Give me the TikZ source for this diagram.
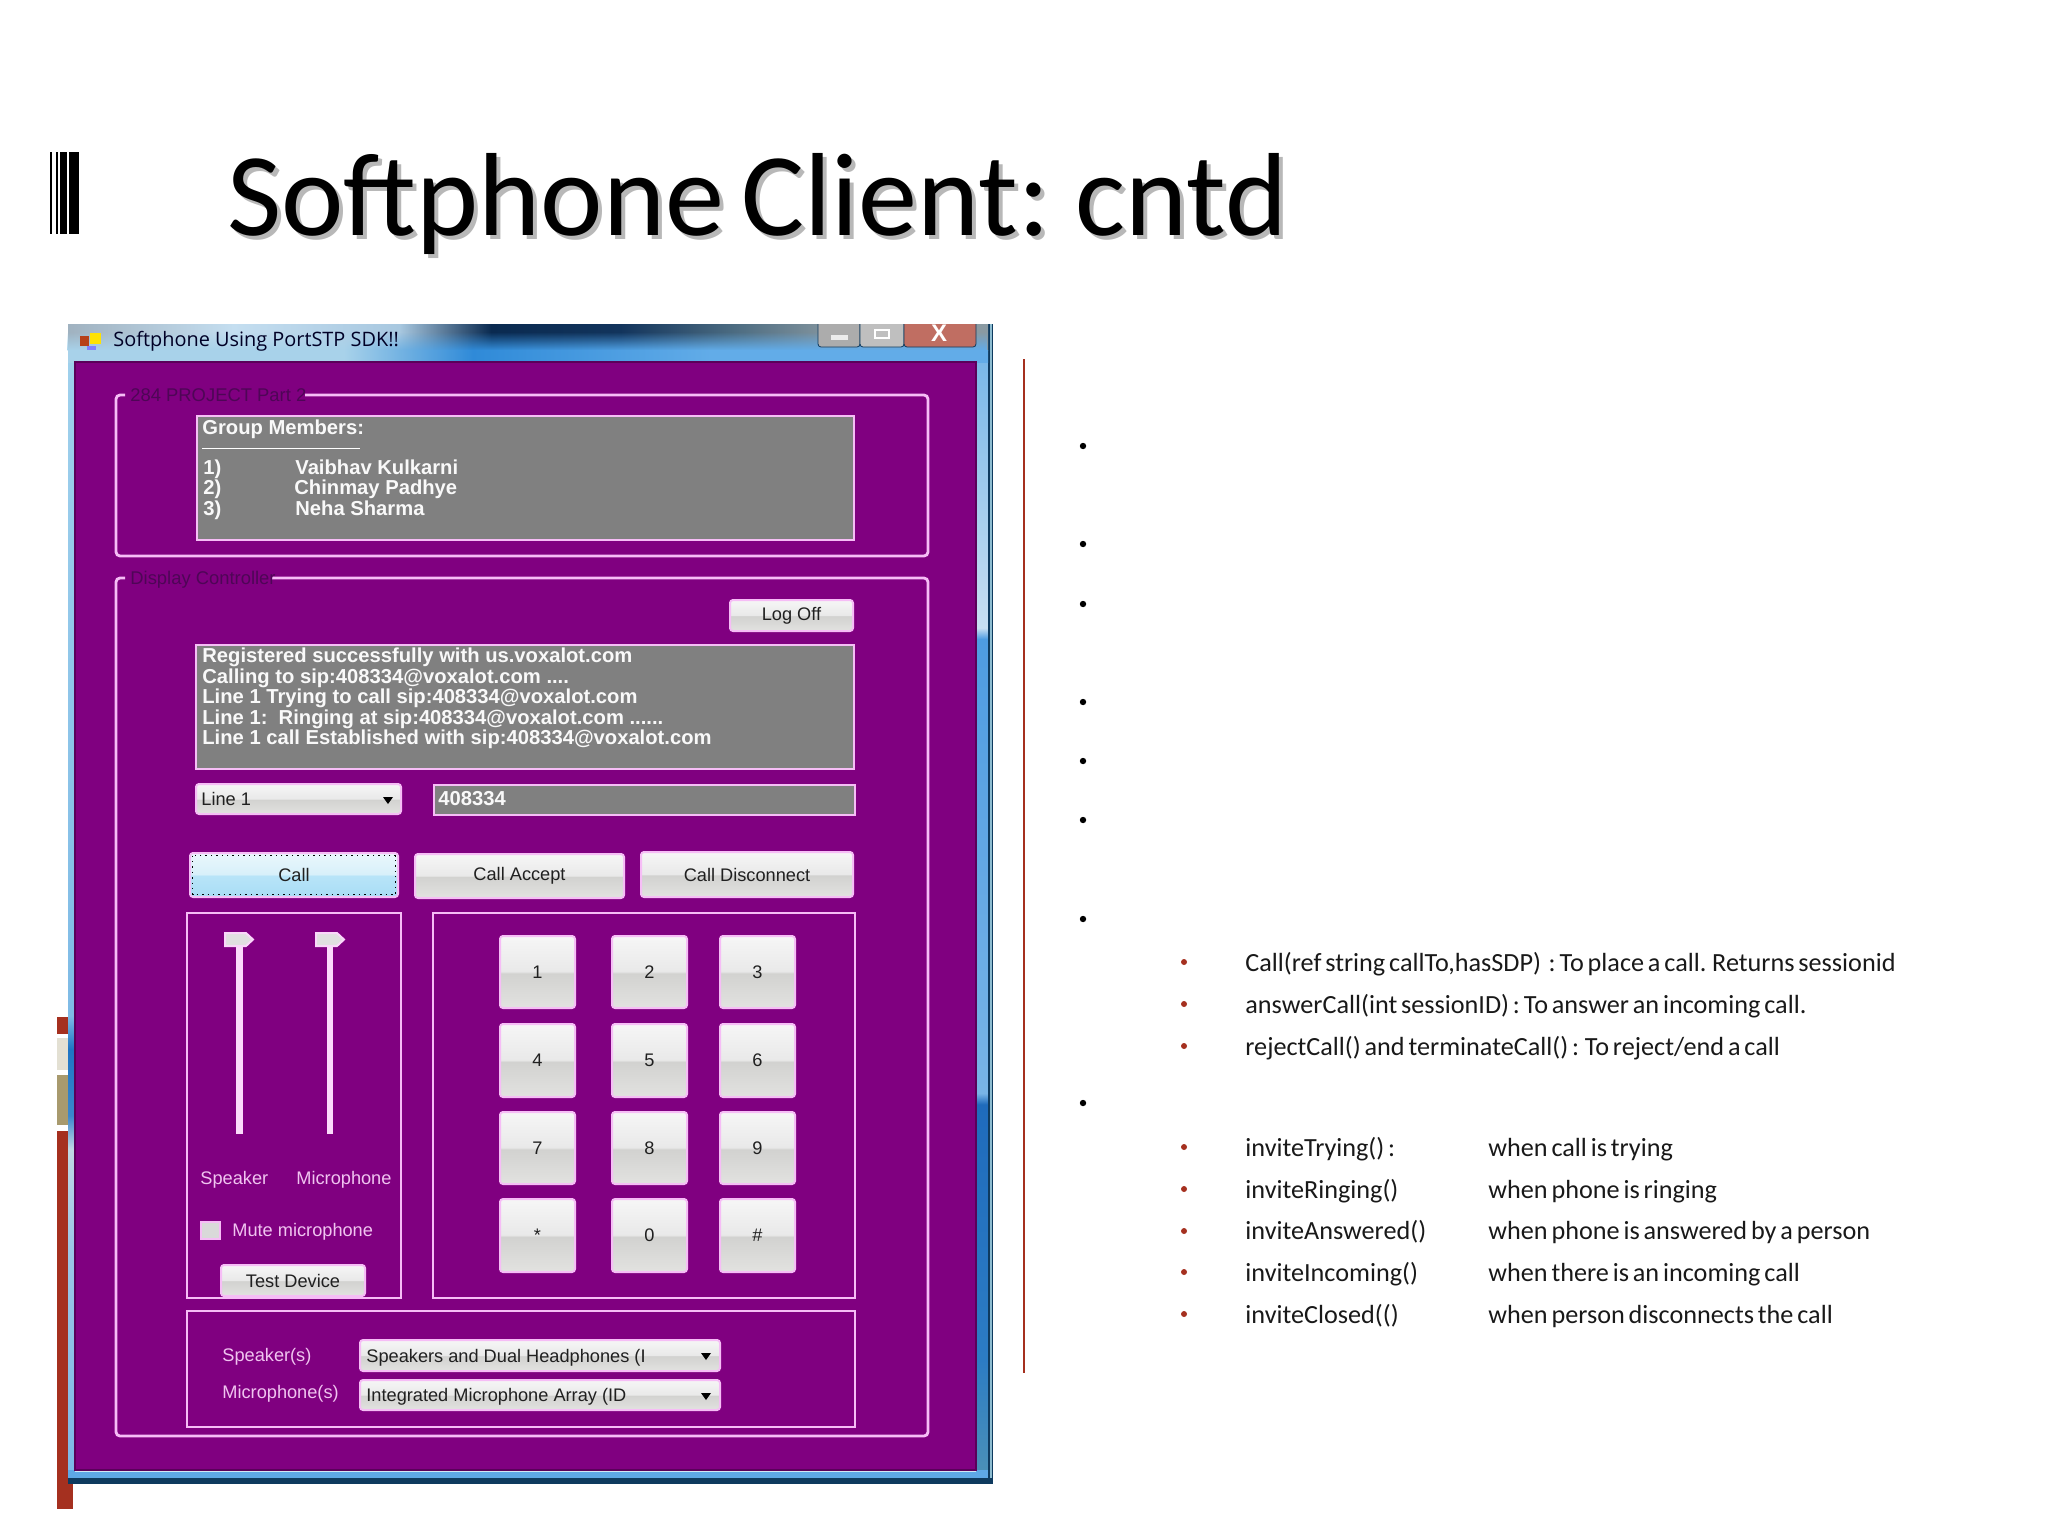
\documentclass[tikz,border=0pt]{standalone}
\usepackage{fontspec}
\setmainfont{Carlito}
\newfontfamily\bodyfont[WordSpace=1.0]{Carlito}
\newfontfamily\headfont[WordSpace=0.65]{Carlito}
\newfontfamily\uifont{Liberation Sans}
\newfontfamily\capfont{Open Sans}
\usetikzlibrary{fadings}
\definecolor{winpurple}{HTML}{800080}
\definecolor{pinkline}{HTML}{F6BDF6}
\definecolor{pinktext}{HTML}{F0C4F0}
\definecolor{boxgrey}{HTML}{808080}
\definecolor{deepred}{HTML}{A5301F}
\definecolor{legendink}{HTML}{4E0656}
\definecolor{btnink}{HTML}{202020}
\definecolor{beige}{HTML}{E3E0D3}
\definecolor{tanbar}{HTML}{A89A6E}
\definecolor{frameblue}{HTML}{8CC4E8}
\definecolor{framedark}{HTML}{0E3A5E}
\definecolor{lowblue}{HTML}{5EA8E6}
\definecolor{frameedge}{HTML}{8DBCD0}
\definecolor{b1}{HTML}{E2E2E0}\definecolor{b2}{HTML}{D2D2D0}\definecolor{b3}{HTML}{E9E9E9}\definecolor{b4}{HTML}{F6F6F6}
\pgfdeclareverticalshading{btnshade}{100bp}{color(0bp)=(b1);color(25bp)=(b1);color(49bp)=(b2);color(50.5bp)=(b3);color(75bp)=(b4);color(100bp)=(b4)}
\definecolor{c1}{HTML}{A8DDF5}\definecolor{c2}{HTML}{B8E4F8}\definecolor{c3}{HTML}{D8F0FA}\definecolor{c4}{HTML}{EAF7FC}
\pgfdeclareverticalshading{callshade}{100bp}{color(0bp)=(c1);color(25bp)=(c1);color(49bp)=(c2);color(51bp)=(c3);color(75bp)=(c4);color(100bp)=(c4)}
\definecolor{t1}{HTML}{A0B2C0}\definecolor{t2}{HTML}{C4DEF0}\definecolor{t3}{HTML}{A8C8E0}\definecolor{t4}{HTML}{0A2A50}\definecolor{t5}{HTML}{12345C}\definecolor{t6}{HTML}{4A6A80}\definecolor{t7}{HTML}{8A9AA2}
\pgfdeclarehorizontalshading{barshade}{100bp}{color(0bp)=(t1);color(25bp)=(t1);color(34bp)=(t2);color(43bp)=(t3);color(48bp)=(t4);color(55bp)=(t5);color(61bp)=(t6);color(67bp)=(t7);color(75bp)=(t7);color(100bp)=(t7)}
\definecolor{u1}{HTML}{A8D2EA}\definecolor{u2}{HTML}{2F8AD8}\definecolor{u3}{HTML}{62ACE8}
\pgfdeclarehorizontalshading{lowbar}{100bp}{color(0bp)=(u1);color(25bp)=(u1);color(40bp)=(u1);color(47bp)=(u2);color(60bp)=(u3);color(75bp)=(u3);color(100bp)=(u3)}
\definecolor{l1}{HTML}{7DB8E6}\definecolor{l2}{HTML}{9CC6E6}\definecolor{l3}{HTML}{C0D8E4}\definecolor{l4}{HTML}{3A86CC}\definecolor{l5}{HTML}{1E75C4}\definecolor{l6}{HTML}{7FBBE6}\definecolor{l7}{HTML}{9FD0EC}
\pgfdeclareverticalshading{frameleft}{100bp}{color(0bp)=(l1);color(25bp)=(l1);color(35bp)=(l2);color(39.5bp)=(l3);color(41bp)=(l4);color(44bp)=(l5);color(45.5bp)=(l6);color(75bp)=(l7);color(100bp)=(l7)}
\definecolor{r1}{HTML}{4A90B8}\definecolor{r2}{HTML}{2C7CC4}\definecolor{r3}{HTML}{1F6BBC}\definecolor{r4}{HTML}{78B4E6}\definecolor{r5}{HTML}{4E9CE2}\definecolor{r6}{HTML}{C8DFF2}\definecolor{r7}{HTML}{7AB8E8}
\pgfdeclareverticalshading{frameright}{100bp}{color(0bp)=(r1);color(25bp)=(r1);color(30bp)=(r2);color(41.5bp)=(r3);color(42bp)=(r4);color(62.5bp)=(r5);color(63bp)=(r6);color(75bp)=(r7);color(100bp)=(r7)}
\tikzset{
  pinkbox/.style={draw=pinkline,line width=1.4pt},
  greybox/.style={draw=pinkline,line width=1.2pt,fill=boxgrey},
  groupline/.style={draw=pinkline,line width=1.4pt,rounded corners=2pt},
  btn/.style={draw=pinkline,line width=1pt,rounded corners=1.5pt,shading=btnshade,text=btnink,font=\uifont\fontsize{9.1}{11}\selectfont},
  callbtn/.style={btn,shading=callshade},
  boxtext/.style={anchor=base west,inner sep=0,text=white!95!gray,font=\uifont\bfseries\fontsize{10.1}{11}\selectfont},
  btntext/.style={anchor=base west,inner sep=0,text=btnink,font=\uifont\fontsize{9.1}{11}\selectfont},
  pinklabel/.style={anchor=base west,inner sep=0,text=pinktext,font=\uifont\fontsize{9.1}{11}\selectfont},
  legend/.style={anchor=base west,inner sep=0,text=legendink,font=\uifont\fontsize{9.2}{11}\selectfont},
  thumbshape/.style={draw=pinkline!60!white,line width=1pt,fill=white!88!black},
  track/.style={fill=pinkline!55!white},
  drop/.style={fill=black},
  redbullet/.style={circle,fill=deepred,inner sep=0,minimum size=3pt},
  blackbullet/.style={circle,fill=black,inner sep=0,minimum size=3.2pt},
  bodytext/.style={anchor=base west,inner sep=0,text=black!90,font=\bodyfont\fontsize{13.1}{16}\selectfont},
  titletext/.style={anchor=base west,inner sep=0,font=\headfont\fontsize{59.1}{66}\selectfont},
  stripe/.style={fill=black}
}
\newcommand{\uibox}[7]{\pgfmathsetmacro\uiw{(#4-#2)*0.5}\pgfmathsetmacro\uih{(#5-#3)*0.5}%
  \node[#6,minimum width=\uiw pt,minimum height=\uih pt,inner sep=0,outer sep=0] (#1) at ({(#2+#4)/2},{(#3+#5)/2}) {#7};}
\newcommand{\dropmark}[2]{\fill[drop] (#1-5,#2-3) -- (#1+5,#2-3) -- (#1,#2+4) -- cycle;}
\begin{document}
\begin{tikzpicture}[x=0.5pt,y=-0.5pt]
\path[use as bounding box,fill=white] (0,0) rectangle (2048,1536);

% left decoration
\fill[deepred] (57,1017) rectangle (68,1033.5);
\fill[beige] (57,1038) rectangle (68,1070);
\fill[tanbar] (57,1074.5) rectangle (68,1125);
\fill[deepred] (57,1131) rectangle (73,1509);

% title icon
\fill[stripe] (49.5,152) rectangle (51.5,234);
\fill[stripe] (55.5,152) rectangle (58.3,234);
\fill[stripe] (60,152) rectangle (66.7,234);
\fill[stripe] (69.3,152) rectangle (79.3,234);

% title
\node[titletext,text=black!28] (titleshadow) at (231,239) {Softphone Client: cntd};
\node[titletext,text=black] (title) at (227,235) {Softphone Client: cntd};

% window frame
\fill[frameblue] (68,324) rectangle (993,1484);
\fill[shading=frameleft] (68,362) rectangle (75,1470);
\fill[shading=frameright] (976,362) rectangle (988,1470);
\fill[framedark] (988,324) rectangle (990,1484);
\fill[frameedge] (990,324) rectangle (992,1484);
\fill[framedark] (992,324) rectangle (993,1484);
\fill[shading=barshade] (68,324) rectangle (988,350);
\path[shading=lowbar,path fading=north] (68,332) rectangle (988,350);
\fill[shading=lowbar] (68,350) rectangle (988,362);
\fill[white!70!frameblue] (75,360.5) rectangle (976,362);
\fill[lowblue] (68,1470) rectangle (988,1478);
\fill[white!60!frameblue] (75,1470) rectangle (976,1472);
\fill[framedark] (68,1478) rectangle (993,1484);
\filldraw[fill=winpurple,draw=winpurple!70!black,line width=0.8pt] (75,362) rectangle (976,1470);

% caption buttons
\uibox{minbtn}{818}{316}{860}{347}{draw=framedark,rounded corners=1.5pt,fill=gray!65!white}{}
\uibox{maxbtn}{860}{316}{904}{347}{draw=framedark,rounded corners=1.5pt,fill=gray!50!white}{}
\uibox{closebtn}{904}{316}{976}{347}{draw=framedark,rounded corners=1.5pt,fill=deepred!70!white}{}
\fill[white] (60,314) rectangle (1000,324);
\fill[white!85!gray] (831,335) rectangle (848,340);
\draw[white,line width=1.2pt] (875,330) rectangle (889,338);
\node[inner sep=0,text=white,font=\uifont\bfseries\fontsize{12}{12}\selectfont] (closex) at (939,333) {X};

% caption
\fill[deepred!80!orange] (80,336) rectangle (89,346);
\fill[yellow!85!orange] (90,333) rectangle (101,344);
\fill[blue!50!white] (87,346) rectangle (96,350);
\node[anchor=base west,inner sep=0,text=black!85!blue,font=\capfont\fontsize{9.95}{12}\selectfont] (caption) at (113,346) {Softphone Using PortSTP SDK!!};

% group 1
\draw[groupline] (125,395) -- (116,395) -- (116,556) -- (928,556) -- (928,395) -- (305,395);
\node[legend] (legend1) at (130,401) {284 PROJECT Part 2};
\uibox{members}{197}{416}{854}{540}{greybox}{}
\node[boxtext] (gm) at (202,434) {Group Members:};
\fill[white] (202,447.5) rectangle (360,449);
\node[boxtext] (m1n) at (203,474) {1)};
\node[boxtext] (m1) at (295,474) {Vaibhav Kulkarni};
\node[boxtext] (m2n) at (203,494.5) {2)};
\node[boxtext] (m2) at (294,494.5) {Chinmay Padhye};
\node[boxtext] (m3n) at (203,515) {3)};
\node[boxtext] (m3) at (295,515) {Neha Sharma};

% group 2
\draw[groupline] (125,578) -- (116,578) -- (116,1436) -- (928,1436) -- (928,578) -- (272,578);
\node[legend] (legend2) at (130,584) {Display Controller};
\uibox{logoff}{730}{600}{853}{631}{btn}{Log Off}
\uibox{status}{196}{645}{854}{769}{greybox}{}
\node[boxtext] (s1) at (202,662.5) {Registered successfully with us.voxalot.com};
\node[boxtext] (s2) at (202,683) {Calling to sip:408334@voxalot.com ....};
\node[boxtext] (s3) at (202,703.5) {Line 1 Trying to call sip:408334@voxalot.com};
\node[boxtext] (s4) at (202,724) {Line 1:\ \ Ringing at sip:408334@voxalot.com ......};
\node[boxtext] (s5) at (202,744.5) {Line 1 call Established with sip:408334@voxalot.com};
\uibox{linecombo}{196}{784}{401}{814}{btn}{}
\node[btntext] (linetext) at (201,805) {Line 1};
\dropmark{388}{800}
\uibox{number}{434}{785}{855}{815}{greybox}{}
\node[boxtext] (numtext) at (438,805) {408334};
\uibox{call}{190}{853}{398}{897}{callbtn}{Call}
\draw[black,line width=0.7pt,dotted] (192.5,855.5) rectangle (395.5,894.5);
\uibox{accept}{415}{854}{624}{898}{btn}{Call Accept}
\uibox{disconnect}{641}{852}{853}{897}{btn}{Call Disconnect}

% left panel
\uibox{leftpanel}{187}{913}{401}{1298}{pinkbox}{}
\uibox{rightpanel}{433}{913}{855}{1298}{pinkbox}{}
\fill[track] (236,947) rectangle (243,1134);
\fill[track] (327,947) rectangle (333,1134);
\draw[thumbshape] (225,933) -- (246,933) -- (253,939.5) -- (246,946) -- (225,946) -- cycle;
\draw[thumbshape] (316,933) -- (337,933) -- (344,939.5) -- (337,946) -- (316,946) -- cycle;
\node[pinklabel] (speaker) at (200,1184) {Speaker};
\node[pinklabel] (microphone) at (296,1184) {Microphone};
\uibox{mutebox}{201}{1222}{220}{1239}{draw=pinkline,line width=1pt,fill=white!85!black}{}
\node[pinklabel] (mute) at (232,1236) {Mute microphone};
\uibox{testdevice}{221}{1265}{365}{1296}{btn}{Test Device}

% keypad
\uibox{k1}{500}{936}{575}{1008}{btn}{1}
\uibox{k2}{612}{936}{687}{1008}{btn}{2}
\uibox{k3}{720}{936}{795}{1008}{btn}{3}
\uibox{k4}{500}{1024}{575}{1097}{btn}{4}
\uibox{k5}{612}{1024}{687}{1097}{btn}{5}
\uibox{k6}{720}{1024}{795}{1097}{btn}{6}
\uibox{k7}{500}{1112}{575}{1184}{btn}{7}
\uibox{k8}{612}{1112}{687}{1184}{btn}{8}
\uibox{k9}{720}{1112}{795}{1184}{btn}{9}
\uibox{kstar}{500}{1199}{575}{1272}{btn}{*}
\uibox{k0}{612}{1199}{687}{1272}{btn}{0}
\uibox{khash}{720}{1199}{795}{1272}{btn}{\#}

% devices
\uibox{devices}{187}{1311}{855}{1427}{pinkbox}{}
\node[pinklabel] (spk) at (222,1361) {Speaker(s)};
\node[pinklabel] (mic) at (222,1398) {Microphone(s)};
\uibox{spkcombo}{360}{1340}{720}{1371}{btn}{}
\node[btntext] (spktext) at (366,1362) {Speakers and Dual Headphones (I};
\dropmark{706}{1356}
\uibox{miccombo}{360}{1380}{720}{1410}{btn}{}
\node[btntext] (mictext) at (366,1401) {Integrated Microphone Array (ID};
\dropmark{706}{1396}

% divider
\fill[deepred] (1023,359) rectangle (1025,1373);

% black bullets
\foreach \yy [count=\i] in {446,544,604,702,761,820,919,1103}
  \node[blackbullet] (bb\i) at (1083,\yy) {};

% first list
\node[redbullet] (r1) at (1184,962) {};
\node[bodytext] (t1) at (1245,971) {Call(ref string callTo,hasSDP)\ \ : To place a call. Returns sessionid};
\node[redbullet] (r2) at (1184,1004) {};
\node[bodytext] (t2) at (1245,1013) {answerCall(int sessionID) : To answer an incoming call.};
\node[redbullet] (r3) at (1184,1046) {};
\node[bodytext] (t3) at (1245,1055) {rejectCall() and terminateCall() : To reject/end a call};

% second list
\node[redbullet] (r4) at (1184,1147) {};
\node[bodytext] (a4) at (1245,1156) {inviteTrying() :};
\node[bodytext] (b4) at (1488,1156) {when call is trying};
\node[redbullet] (r5) at (1184,1189) {};
\node[bodytext] (a5) at (1245,1198) {inviteRinging()};
\node[bodytext] (b5) at (1488,1198) {when phone is ringing};
\node[redbullet] (r6) at (1184,1231) {};
\node[bodytext] (a6) at (1245,1239.5) {inviteAnswered()};
\node[bodytext] (b6) at (1488,1239.5) {when phone is answered by a person};
\node[redbullet] (r7) at (1184,1272) {};
\node[bodytext] (a7) at (1245,1281) {inviteIncoming()};
\node[bodytext] (b7) at (1488,1281) {when there is an incoming call};
\node[redbullet] (r8) at (1184,1314) {};
\node[bodytext] (a8) at (1245,1323) {inviteClosed(()};
\node[bodytext] (b8) at (1488,1323) {when person disconnects the call};
\end{tikzpicture}
\end{document}
